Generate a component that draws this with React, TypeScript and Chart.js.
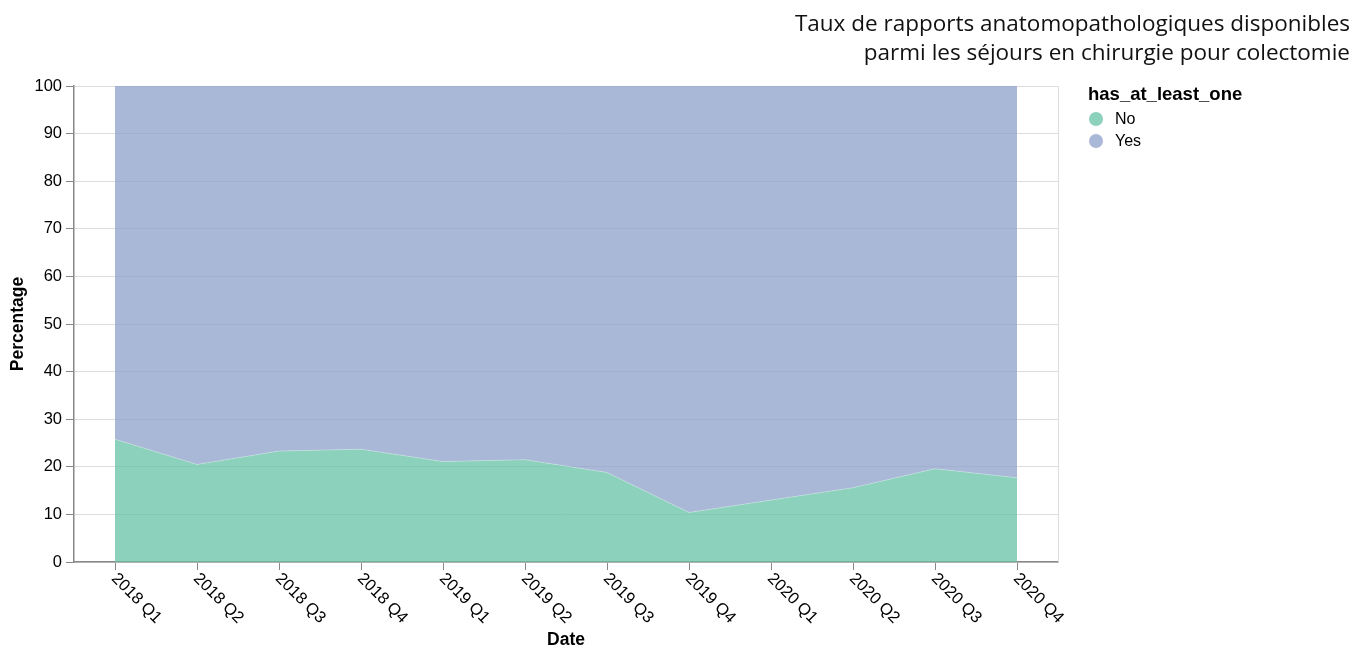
import React, { useEffect, useRef } from "react";
import { Chart, registerables } from "chart.js";

Chart.register(...registerables);

const quarters = [
  "2018 Q1", "2018 Q2", "2018 Q3", "2018 Q4",
  "2019 Q1", "2019 Q2", "2019 Q3", "2019 Q4",
  "2020 Q1", "2020 Q2", "2020 Q3", "2020 Q4",
];
const pctNo = [25.8, 20.5, 23.3, 23.7, 21.1, 21.5, 18.8, 10.4, 13.0, 15.6, 19.6, 17.7];
const pctYes = [74.2, 79.5, 76.7, 76.3, 78.9, 78.5, 81.2, 89.6, 87.0, 84.4, 80.4, 82.3];
const yTicks = [0, 10, 20, 30, 40, 50, 60, 70, 80, 90, 100];
const seriesNames = ["No", "Yes"];
const titleLines = [
  "Taux de rapports anatomopathologiques disponibles",
  "parmi les séjours en chirurgie pour colectomie",
];
const legendTitle = "has_at_least_one";
const xTitle = "Date";
const yTitle = "Percentage";

const COLORS = ["rgba(102,194,165,0.75)", "rgba(141,160,203,0.75)"];
const AXIS = "#888";
const GRID = "#ddd";
const SANS = "'Liberation Sans', Arial, sans-serif";

const overlay = {
  id: "overlay",
  afterDraw(chart: any) {
    const ctx = chart.ctx as CanvasRenderingContext2D;
    const area = chart.chartArea;
    const xs = chart.scales.x;
    ctx.save();
    // view border
    ctx.strokeStyle = GRID;
    ctx.lineWidth = 1;
    ctx.beginPath();
    ctx.moveTo(area.right + 0.5, area.top);
    ctx.lineTo(area.right + 0.5, area.bottom);
    ctx.stroke();

    // x labels rotated
    ctx.fillStyle = "#000";
    ctx.font = `16.5px ${SANS}`;
    ctx.textAlign = "left";
    ctx.textBaseline = "middle";
    quarters.forEach((q, i) => {
      const px = xs.getPixelForValue(i);
      ctx.save();
      ctx.translate(px - 1, area.bottom + 14);
      ctx.rotate(Math.PI / 4);
      ctx.fillText(q, 0, 0);
      ctx.restore();
    });

    // axis titles
    ctx.font = `bold 17.5px ${SANS}`;
    ctx.textAlign = "center";
    ctx.textBaseline = "middle";
    ctx.fillText(xTitle, (area.left + area.right) / 2, 640);
    ctx.save();
    ctx.translate(18, (area.top + area.bottom) / 2);
    ctx.rotate(-Math.PI / 2);
    ctx.fillText(yTitle, 0, 0);
    ctx.restore();

    // chart title
    ctx.font = `22.5px 'Open Sans', 'Noto Sans', sans-serif`;
    ctx.textAlign = "right";
    ctx.textBaseline = "alphabetic";
    ctx.fillStyle = "#111";
    titleLines.forEach((t, i) => ctx.fillText(t, 1350, 31 + i * 29));

    // legend
    ctx.fillStyle = "#000";
    ctx.textAlign = "left";
    ctx.textBaseline = "middle";
    ctx.font = `bold 18.5px ${SANS}`;
    ctx.fillText(legendTitle, 1088, 95);
    ctx.font = `16px ${SANS}`;
    seriesNames.forEach((n, i) => {
      const cy = 119 + i * 22;
      ctx.fillStyle = COLORS[i];
      ctx.beginPath();
      ctx.arc(1096, cy, 7, 0, Math.PI * 2);
      ctx.fill();
      ctx.fillStyle = "#000";
      ctx.fillText(n, 1115, cy + 1);
    });
    ctx.restore();
  },
};

export default function App() {
  const ref = useRef<HTMLCanvasElement | null>(null);
  useEffect(() => {
    if (!ref.current) return;
    const chart = new Chart(ref.current, {
      type: "line",
      data: {
        labels: quarters,
        datasets: [
          {
            label: seriesNames[0],
            data: pctNo,
            fill: "origin",
            backgroundColor: COLORS[0],
            borderColor: "rgba(255,255,255,0.5)",
            borderWidth: 0.5,
            pointRadius: 0,
            tension: 0,
          },
          {
            label: seriesNames[1],
            data: pctYes,
            fill: "-1",
            backgroundColor: COLORS[1],
            borderColor: "rgba(0,0,0,0)",
            borderWidth: 0,
            pointRadius: 0,
            tension: 0,
          },
        ],
      },
      options: {
        animation: false,
        responsive: false,
        devicePixelRatio: 1,
        layout: { padding: { left: 0, right: 305, top: 86, bottom: 0 } },
        plugins: {
          legend: { display: false },
          title: { display: false },
          tooltip: { enabled: false },
        },
        scales: {
          x: {
            type: "category",
            offset: true,
            grid: {
              display: true,
              offset: false,
              drawOnChartArea: false,
              drawTicks: true,
              tickLength: 8,
              color: AXIS,
              tickColor: AXIS,
            },
            border: { display: true, color: AXIS, width: 1.5 },
            ticks: { display: false },
            afterFit: (s: any) => {
              s.height = 85;
            },
          },
          y: {
            stacked: true,
            min: 0,
            max: 100,
            afterBuildTicks: (s: any) => {
              s.ticks = yTicks.map((v) => ({ value: v }));
            },
            grid: {
              color: GRID,
              tickColor: AXIS,
              tickLength: 8,
              drawTicks: true,
            },
            border: { display: true, color: AXIS, width: 1.5 },
            ticks: {
              color: "#000",
              font: { family: SANS, size: 16.5 },
              padding: 4,
            },
            afterFit: (s: any) => {
              s.width = 74;
            },
          },
        },
      },
      plugins: [overlay],
    });
    return () => chart.destroy();
  }, []);
  return (
    <div style={{ position: "fixed", left: 0, top: 0, width: 1363, height: 647 }}>
      <canvas ref={ref} width={1363} height={647} style={{ width: 1363, height: 647 }} />
    </div>
  );
}
